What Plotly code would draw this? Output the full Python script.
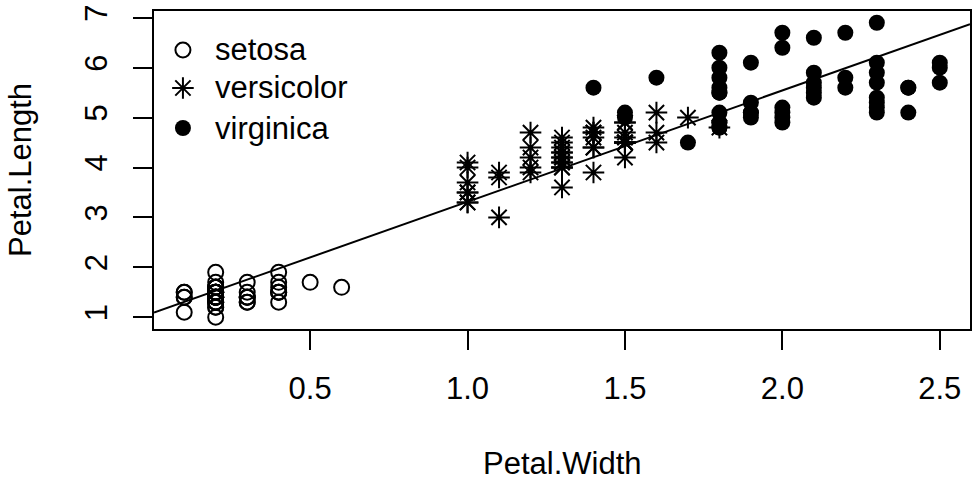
import numpy as np
import plotly.graph_objects as go

# iris data: Petal.Width / Petal.Length by species
setosa_width = [0.2,0.2,0.2,0.2,0.2,0.4,0.3,0.2,0.2,0.1,0.2,0.2,0.1,0.1,0.2,0.4,0.4,0.3,0.3,0.3,
                0.2,0.4,0.2,0.5,0.2,0.2,0.4,0.2,0.2,0.2,0.2,0.4,0.1,0.2,0.2,0.2,0.2,0.1,0.2,0.2,
                0.3,0.3,0.2,0.6,0.4,0.3,0.2,0.2,0.2,0.2]
setosa_length = [1.4,1.4,1.3,1.5,1.4,1.7,1.4,1.5,1.4,1.5,1.5,1.6,1.4,1.1,1.2,1.5,1.3,1.4,1.7,1.5,
                 1.7,1.5,1.0,1.7,1.9,1.6,1.6,1.5,1.4,1.6,1.6,1.5,1.5,1.4,1.5,1.2,1.3,1.4,1.3,1.5,
                 1.3,1.3,1.3,1.6,1.9,1.4,1.6,1.4,1.5,1.4]
versicolor_width = [1.4,1.5,1.5,1.3,1.5,1.3,1.6,1.0,1.3,1.4,1.0,1.5,1.0,1.4,1.3,1.4,1.5,1.0,1.5,1.1,
                    1.8,1.3,1.5,1.2,1.3,1.4,1.4,1.7,1.5,1.0,1.1,1.0,1.2,1.6,1.5,1.6,1.5,1.3,1.3,1.3,
                    1.2,1.4,1.2,1.0,1.3,1.2,1.3,1.3,1.1,1.3]
versicolor_length = [4.7,4.5,4.9,4.0,4.6,4.5,4.7,3.3,4.6,3.9,3.5,4.2,4.0,4.7,3.6,4.4,4.5,4.1,4.5,3.9,
                     4.8,4.0,4.9,4.7,4.3,4.4,4.8,5.0,4.5,3.5,3.8,3.7,3.9,5.1,4.5,4.5,4.7,4.4,4.1,4.0,
                     4.4,4.6,4.0,3.3,4.2,4.2,4.2,4.3,3.0,4.1]
virginica_width = [2.5,1.9,2.1,1.8,2.2,2.1,1.7,1.8,1.8,2.5,2.0,1.9,2.1,2.0,2.4,2.3,1.8,2.2,2.3,1.5,
                   2.3,2.0,2.0,1.8,2.1,1.8,1.8,1.8,2.1,1.6,1.9,2.0,2.2,1.5,1.4,2.3,2.4,1.8,1.8,2.1,
                   2.4,2.3,1.9,2.3,2.5,2.3,1.9,2.0,2.3,1.8]
virginica_length = [6.0,5.1,5.9,5.6,5.8,6.6,4.5,6.3,5.8,6.1,5.1,5.3,5.5,5.0,5.1,5.3,5.5,6.7,6.9,5.0,
                    5.7,4.9,6.7,4.9,5.7,6.0,4.8,4.9,5.6,5.8,6.1,6.4,5.6,5.1,5.6,6.1,5.6,5.5,4.8,5.4,
                    5.6,5.1,5.1,5.9,5.7,5.2,5.0,5.2,5.4,5.1]

species = ["setosa", "versicolor", "virginica"]
x_ticks = [0.5, 1.0, 1.5, 2.0, 2.5]
x_tick_labels = ["0.5", "1.0", "1.5", "2.0", "2.5"]
y_ticks = [1, 2, 3, 4, 5, 6, 7]
y_tick_labels = ["1", "2", "3", "4", "5", "6", "7"]

FONT = "Liberation Sans, Arial, Helvetica, sans-serif"
FS = 31
W, H = 974, 481
ML, MR, MT, MB = 154, 2, 11, 152
PW, PH = W - ML - MR, H - MT - MB

all_w = np.array(setosa_width + versicolor_width + virginica_width)
all_l = np.array(setosa_length + versicolor_length + virginica_length)
slope, intercept = np.polyfit(all_w, all_l, 1)

def ext(lo, hi):
    d = (hi - lo) * 0.04
    return [lo - d, hi + d]

xr = ext(all_w.min(), all_w.max())
yr = ext(all_l.min(), all_l.max())

styles = [
    dict(symbol="circle-open", size=15, color="black", line=dict(width=2, color="black")),
    dict(symbol="asterisk-open", size=18, color="black", line=dict(width=2, color="black")),
    dict(symbol="circle", size=16, color="black", line=dict(width=0)),
]
series = [(setosa_width, setosa_length), (versicolor_width, versicolor_length),
          (virginica_width, virginica_length)]

fig = go.Figure()
for name, (xs, ys), st in zip(species, series, styles):
    fig.add_trace(go.Scatter(x=xs, y=ys, mode="markers", name=name, marker=st, showlegend=False))

line_x = np.array(xr)
fig.add_trace(go.Scatter(x=line_x, y=intercept + slope * line_x, mode="lines",
                         line=dict(color="black", width=2), showlegend=False, hoverinfo="skip"))

# custom legend (pixel layout inside the plot box) on an overlay axis pair spanning [0,1]
leg_sym_x = 183
leg_text_x = 213
leg_rows = [50, 88, 128]
def px_x(p):
    return (p - ML) / PW
def px_y(p):
    return (MT + PH - p) / PH
for name, st, row in zip(species, styles, leg_rows):
    fig.add_trace(go.Scatter(x=[px_x(leg_sym_x)], y=[px_y(row)], mode="markers", marker=st,
                             xaxis="x2", yaxis="y2", showlegend=False, hoverinfo="skip"))
    fig.add_annotation(text=name, xref="paper", yref="paper", x=px_x(leg_text_x), y=px_y(row),
                       xanchor="left", yanchor="middle", showarrow=False,
                       font=dict(family=FONT, size=FS, color="black"))

axis_common = dict(showline=True, mirror=True, linecolor="black", linewidth=2,
                   ticks="outside", ticklen=19, tickwidth=2, tickcolor="black",
                   showgrid=False, zeroline=False,
                   tickfont=dict(family=FONT, size=FS, color="black"))

fig.update_xaxes(range=xr, tickvals=x_ticks, ticktext=x_tick_labels,
                 ticklabelstandoff=12, **axis_common)
fig.update_yaxes(range=yr, tickvals=y_ticks, ticktext=y_tick_labels,
                 tickangle=-90, ticklabelstandoff=14, **axis_common)

fig.add_annotation(text="Petal.Width", xref="paper", yref="paper", x=0.5, y=0,
                   yshift=-134, showarrow=False, xanchor="center", yanchor="middle",
                   font=dict(family=FONT, size=FS, color="black"))
fig.add_annotation(text="Petal.Length", xref="paper", yref="paper", x=0, y=0.5,
                   xshift=-134, textangle=-90, showarrow=False, xanchor="center", yanchor="middle",
                   font=dict(family=FONT, size=FS, color="black"))

fig.update_layout(
    width=W, height=H,
    margin=dict(l=ML, r=MR, t=MT, b=MB),
    paper_bgcolor="white", plot_bgcolor="white",
    font=dict(family=FONT, size=FS, color="black"),
    showlegend=False,
    xaxis2=dict(overlaying="x", range=[0, 1], visible=False, fixedrange=True),
    yaxis2=dict(overlaying="y", range=[0, 1], visible=False, fixedrange=True),
)

fig.write_html("out.html", config={"displayModeBar": False},
               post_script="document.body.style.margin='0';document.body.style.overflow='hidden';")
